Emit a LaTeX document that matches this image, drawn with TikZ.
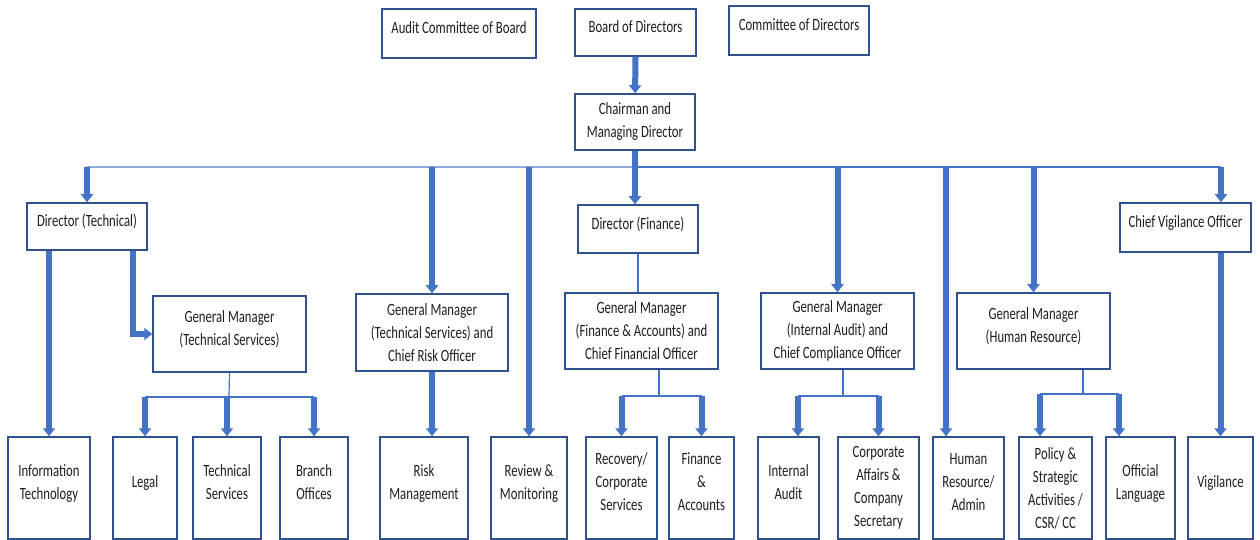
\documentclass[tikz,border=0pt]{standalone}
\usepackage{fontspec}
\setmainfont[FakeStretch=0.74]{Carlito}
\usepackage{tikz}
\usetikzlibrary{arrows.meta}
\definecolor{boxblue}{RGB}{47,82,143}
\definecolor{arrblue}{RGB}{68,114,196}
\definecolor{buslight}{RGB}{143,170,220}
\definecolor{inkgray}{RGB}{30,30,30}
\tikzset{orgbox/.style={draw=boxblue, line width=0.75pt, fill=white, text=inkgray, align=center, inner sep=1pt}}
\tikzset{unitbox/.style={orgbox, minimum height=51pt}}
\tikzset{feed/.style={draw=arrblue, line width=3pt, -{Triangle[width=6pt,length=4pt]}}}
\tikzset{link/.style={draw=arrblue, line width=0.6pt}}
\newcommand{\lift}{\\[-5.5pt]\mbox{}}
\begin{document}
\begin{tikzpicture}[x=0.5pt, y=-0.5pt, font=\fontsize{8.6}{11.5}\selectfont]
\useasboundingbox (0,0) rectangle (1260,540);

% top
\node[orgbox, minimum width=77pt, minimum height=24.5pt] (audit) at (459,33.5) {Audit Committee of Board\lift};
\node[orgbox, minimum width=60.5pt, minimum height=23.5pt] (board) at (635.5,32.5) {Board of Directors\lift};
\node[orgbox, minimum width=70pt, minimum height=24.5pt] (cod) at (799,30.5) {Committee of Directors\lift};
\node[orgbox, minimum width=60pt, minimum height=28pt] (cmd) at (635,122) {Chairman and\\Managing Director};

% directors
\node[orgbox, minimum width=60pt, minimum height=23.5pt] (dirtech) at (87,226.5) {Director (Technical)\lift};
\node[orgbox, minimum width=60pt, minimum height=24pt] (dirfin) at (638,229) {Director (Finance)\lift};
\node[orgbox, minimum width=65.5pt, minimum height=24.5pt] (cvo) at (1185.5,227.5) {Chief Vigilance Officer\lift};

% general managers
\node[orgbox, minimum width=76.5pt, minimum height=38pt] (gmts) at (229.5,334) {General Manager\\(Technical Services)\lift};
\node[orgbox, minimum width=76pt, minimum height=38.5pt] (gmtr) at (432,332.5) {General Manager\\(Technical Services) and\\Chief Risk Officer};
\node[orgbox, minimum width=76.5pt, minimum height=38pt] (gmfa) at (641.5,331) {General Manager\\(Finance \& Accounts) and\\Chief Financial Officer};
\node[orgbox, minimum width=76.5pt, minimum height=38pt] (gmia) at (837.5,331) {General Manager\\(Internal Audit) and\\Chief Compliance Officer};
\node[orgbox, minimum width=76.5pt, minimum height=38pt] (gmhr) at (1033.5,331) {General Manager\\(Human Resource)\lift};

% units
\node[unitbox, minimum width=41pt] (it) at (49,488) {Information\\Technology\lift};
\node[unitbox, minimum width=32pt] (legal) at (145,488) {Legal\lift};
\node[unitbox, minimum width=34pt] (techsvc) at (227,488) {Technical\\Services\lift};
\node[unitbox, minimum width=34pt] (branch) at (314,488) {Branch\\Offices\lift};
\node[unitbox, minimum width=44pt] (risk) at (424,488) {Risk\\Management\lift};
\node[unitbox, minimum width=38pt] (review) at (529,488) {Review \&\\Monitoring\lift};
\node[unitbox, minimum width=35.5pt] (recovery) at (621.5,488) {Recovery/\\Corporate\\Services\lift};
\node[unitbox, minimum width=32.5pt] (finacc) at (701.5,488) {Finance\\\&\\Accounts\lift};
\node[unitbox, minimum width=30.5pt] (intaudit) at (788.5,488) {Internal\\Audit\lift};
\node[unitbox, minimum width=40.5pt] (corpaff) at (878.5,488) {Corporate\\Affairs \&\\Company\\Secretary};
\node[unitbox, minimum width=35.5pt] (hradmin) at (968.5,488) {Human\\Resource/\\Admin\lift};
\node[unitbox, minimum width=36.5pt] (policy) at (1055.5,488) {Policy \&\\Strategic\\Activities /\\CSR/ CC};
\node[unitbox, minimum width=34.5pt] (official) at (1140.5,488) {Official\\Language\lift};
\node[unitbox, minimum width=32.5pt] (vigil) at (1220.5,488) {Vigilance\lift};

% bus and forks
\coordinate (bus) at (636,167);
\coordinate (cvotap) at (1221,167);
\coordinate (hrtap) at (946,167);
\coordinate (tsfork) at (229,397);
\coordinate (fafork) at (659,396);
\coordinate (iafork) at (843,396);
\coordinate (iaL) at (798,396);
\coordinate (hrfork) at (1083,394);
\coordinate (polL) at (1040,394);
\coordinate (offR) at (1119,394);

\draw[link, draw=buslight, line width=1.1pt] (dirtech.north |- bus) -- (bus);
\draw[link] (bus) -- (cvotap);

\draw[feed] (board) -- (cmd);
\draw[feed] (cmd.south) -- (cmd.south |- dirfin.north);
\draw[feed] (dirtech.north |- bus) -- (dirtech.north);
\draw[feed] (gmtr.north |- bus) -- (gmtr.north);
\draw[feed] (review.north |- bus) -- (review.north);
\draw[feed] (gmia.north |- bus) -- (gmia.north);
\draw[feed] (hrtap) -- (hrtap |- hradmin.north);
\draw[feed] (gmhr.north |- bus) -- (gmhr.north);
\draw[feed] (cvotap) -- (cvotap |- cvo.north);
\draw[feed] (vigil.north |- cvo.south) -- (vigil.north);

% technical
\draw[feed] (it.north |- dirtech.south) -- (it.north);
\draw[feed] ([xshift=23pt]dirtech.south) |- (gmts.west);
\draw[link] (gmts.south) -- (tsfork);
\draw[link] (legal.north |- tsfork) -- (branch.north |- tsfork);
\foreach \n in {legal,techsvc,branch}
  \draw[feed] (\n.north |- tsfork) -- (\n.north);
\draw[feed] (gmtr.south) -- (gmtr.south |- risk.north);

% finance
\draw[link] (dirfin.south) -- (dirfin.south |- gmfa.north);
\draw[link] (gmfa.south -| fafork) -- (fafork);
\draw[link] (recovery.north |- fafork) -- (finacc.north |- fafork);
\foreach \n in {recovery,finacc}
  \draw[feed] (\n.north |- fafork) -- (\n.north);

% audit
\draw[link] (gmia.south -| iafork) -- (iafork);
\draw[link] (iaL) -- (corpaff.north |- iafork);
\draw[feed] (iaL) -- (iaL |- intaudit.north);
\draw[feed] (corpaff.north |- iafork) -- (corpaff.north);

% human resource
\draw[link] (gmhr.south -| hrfork) -- (hrfork);
\draw[link] (polL) -- (offR);
\draw[feed] (polL) -- (polL |- policy.north);
\draw[feed] (offR) -- (offR |- official.north);

\end{tikzpicture}
\end{document}
